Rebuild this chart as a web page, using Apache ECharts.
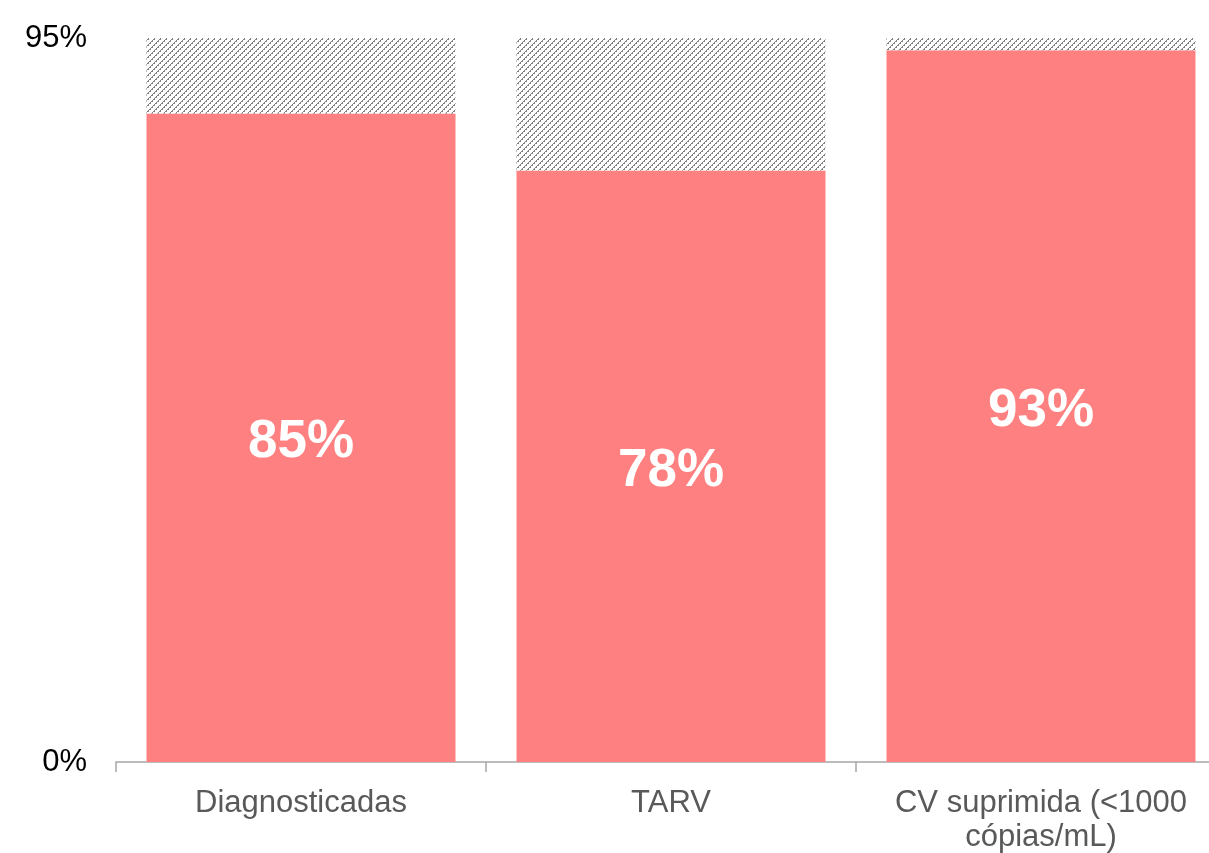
<!DOCTYPE html>
<html>
<head>
<meta charset="utf-8">
<style>
  html, body { margin: 0; padding: 0; background: #fff; }
  #chart { width: 1209px; height: 853px; }
</style>
<script src="https://cdn.jsdelivr.net/npm/echarts@6/dist/echarts.min.js"></script>
</head>
<body>
<div id="chart"></div>
<script>
const categories = ['Diagnosticadas', 'TARV', 'CV suprimida (<1000\ncópias/mL)']
const achieved = [85.1, 77.6, 93.4]
const target = [95, 95, 95]
const yTicks = [0, 95]

// hatch texture for the gap up to the target
const makeHatch = () => {
  const c = document.createElement('canvas')
  c.width = 6
  c.height = 6
  const ctx = c.getContext('2d')
  ctx.fillStyle = '#ffffff'
  ctx.fillRect(0, 0, 6, 6)
  ctx.fillStyle = '#808080'
  for (let x = 0; x < 6; x++) {
    for (let y = 0; y < 6; y++) {
      const k = (x + y) % 6
      if (k === 0 || (k === 1 && x % 2 === 0)) ctx.fillRect(x, y, 1, 1)
    }
  }
  return c
}

const chart = echarts.init(document.getElementById('chart'))

const option = {
  animation: false,
  textStyle: { fontFamily: 'Liberation Sans, Arial, sans-serif' },
  grid: {
    left: 116,
    top: 38,
    width: 1110,
    height: 724,
    containLabel: false,
    outerBoundsMode: 'none'
  },
  xAxis: {
    type: 'category',
    data: categories,
    axisLine: { lineStyle: { color: '#a6a6a6', width: 1.5 } },
    axisTick: { show: true, length: 10, lineStyle: { color: '#a6a6a6', width: 1.5 } },
    axisLabel: {
      color: '#595959',
      fontSize: 31,
      lineHeight: 34,
      margin: 24,
      interval: 0
    }
  },
  yAxis: {
    type: 'value',
    min: yTicks[0],
    max: yTicks[1],
    interval: yTicks[1] - yTicks[0],
    axisLine: { show: false },
    axisTick: { show: false },
    splitLine: { show: false },
    axisLabel: {
      color: '#000000',
      fontSize: 31,
      margin: 29,
      formatter: (v) => v + '%'
    }
  },
  series: [
    {
      name: 'achieved',
      type: 'bar',
      stack: 'total',
      barWidth: 309,
      data: achieved,
      itemStyle: { color: '#ff8080' },
      label: {
        show: true,
        position: 'inside',
        offset: [0, 5],
        color: '#ffffff',
        fontSize: 53,
        fontWeight: 'bold',
        formatter: (p) => Math.round(p.value) + '%'
      }
    },
    {
      name: 'gap',
      type: 'bar',
      stack: 'total',
      barWidth: 309,
      data: target.map((t, i) => t - achieved[i]),
      itemStyle: { color: { image: makeHatch(), repeat: 'repeat' } },
      label: { show: false }
    }
  ]
}

chart.setOption(option)
</script>
</body>
</html>
